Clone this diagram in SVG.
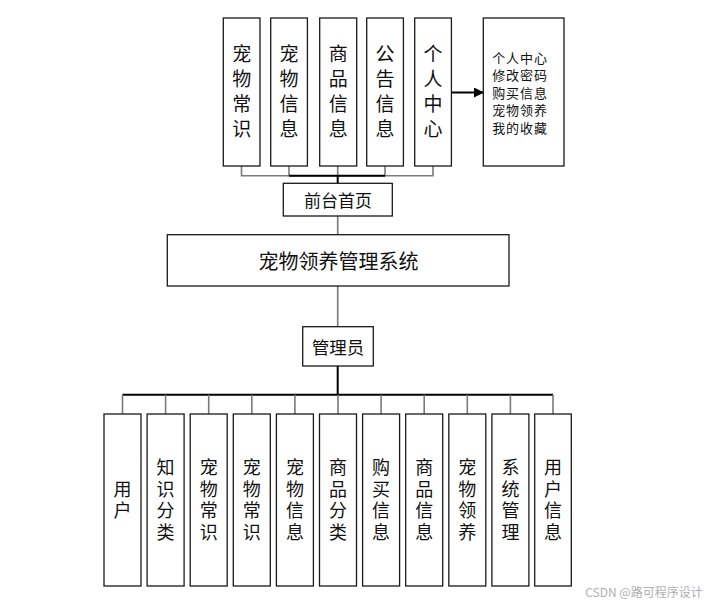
<svg xmlns="http://www.w3.org/2000/svg" width="719" height="604" viewBox="0 0 719 604">
<style>
.box{fill:#fff;stroke:#1a1a1a;stroke-width:1.3}
.t{font-family:"Noto Sans CJK SC","Noto Sans CJK JP",sans-serif;fill:#111;text-anchor:middle;dominant-baseline:central}
.vt{font-family:"Noto Sans CJK SC","Noto Sans CJK JP",sans-serif;fill:#111;text-anchor:middle;writing-mode:vertical-rl;font-size:19px;letter-spacing:6px}
.vb{font-family:"Noto Sans CJK SC","Noto Sans CJK JP",sans-serif;fill:#111;text-anchor:middle;writing-mode:vertical-rl;font-size:18px;letter-spacing:3.5px}
.g{stroke:#7a7a7a;stroke-width:1.6;fill:none}
.k{stroke:#000;stroke-width:2;fill:none}
</style>
<defs>
<marker id="ah" markerWidth="10" markerHeight="10" refX="9" refY="5" orient="auto" markerUnits="userSpaceOnUse">
<path d="M0,0 L10,5 L0,10 z" fill="#000"/>
</marker>
</defs>
<rect width="719" height="604" fill="#fff"/>
<g id="connectors">
<path class="g" d="M241.5,166V175.7H433V166M289,166V175.7M337.7,166V175.7M385,166V175.7"/>
<path class="k" d="M289,175.7H385M337.7,175.7V183.3"/>
<path class="g" d="M337.7,216V234.7M337.7,286V326.7"/>
<path class="k" d="M337.7,366V394.7M122.5,394.7H553"/>
<path class="g" d="M122.5,394.7V414M165.6,394.7V414M208.7,394.7V414M251.8,394.7V414M294.9,394.7V414M338,394.7V414M381.1,394.7V414M424.2,394.7V414M467.3,394.7V414M510.4,394.7V414M553,394.7V414"/>
<line class="k" x1="451.3" y1="92.5" x2="483" y2="92.5" marker-end="url(#ah)"/>
</g>
<g id="n-top1"><rect class="box" x="223.3" y="18" width="36.7" height="148"/><text class="vt" x="241.7" y="94">宠物常识</text></g>
<g id="n-top2"><rect class="box" x="270.7" y="18" width="36.7" height="148"/><text class="vt" x="289" y="94">宠物信息</text></g>
<g id="n-top3"><rect class="box" x="319.7" y="18" width="37" height="148"/><text class="vt" x="338.2" y="94">商品信息</text></g>
<g id="n-top4"><rect class="box" x="366.7" y="18" width="36.7" height="148"/><text class="vt" x="385" y="94">公告信息</text></g>
<g id="n-top5"><rect class="box" x="414.7" y="18" width="36.7" height="148"/><text class="vt" x="433" y="94">个人中心</text></g>
<g id="n-personal"><rect class="box" x="483.3" y="18" width="80.7" height="148"/>
<text class="t" x="520" y="57" style="font-size:13px;letter-spacing:0.9px">个人中心</text>
<text class="t" x="520" y="74.5" style="font-size:13px;letter-spacing:0.9px">修改密码</text>
<text class="t" x="520" y="92" style="font-size:13px;letter-spacing:0.9px">购买信息</text>
<text class="t" x="520" y="109.5" style="font-size:13px;letter-spacing:0.9px">宠物领养</text>
<text class="t" x="520" y="127" style="font-size:13px;letter-spacing:0.9px">我的收藏</text></g>
<g id="n-front"><rect class="box" x="283.3" y="183.3" width="109" height="32.7"/><text class="t" x="338" y="199.5" style="font-size:17px">前台首页</text></g>
<g id="n-system"><rect class="box" x="167.3" y="234.7" width="341.7" height="51.3"/><text class="t" x="338.5" y="260.5" style="font-size:20px">宠物领养管理系统</text></g>
<g id="n-admin"><rect class="box" x="302.7" y="326.7" width="70.6" height="39.3"/><text class="t" x="338" y="346" style="font-size:17.5px">管理员</text></g>
<g id="n-b1"><rect class="box" x="104" y="414" width="37" height="172"/><text class="vb" x="122.5" y="501.5">用户</text></g>
<g id="n-b2"><rect class="box" x="147.1" y="414" width="37" height="172"/><text class="vb" x="165.6" y="501.5">知识分类</text></g>
<g id="n-b3"><rect class="box" x="190.2" y="414" width="37" height="172"/><text class="vb" x="208.7" y="501.5">宠物常识</text></g>
<g id="n-b4"><rect class="box" x="233.3" y="414" width="37" height="172"/><text class="vb" x="251.8" y="501.5">宠物常识</text></g>
<g id="n-b5"><rect class="box" x="276.4" y="414" width="37" height="172"/><text class="vb" x="294.9" y="501.5">宠物信息</text></g>
<g id="n-b6"><rect class="box" x="319.5" y="414" width="37" height="172"/><text class="vb" x="338" y="501.5">商品分类</text></g>
<g id="n-b7"><rect class="box" x="362.6" y="414" width="37" height="172"/><text class="vb" x="381.1" y="501.5">购买信息</text></g>
<g id="n-b8"><rect class="box" x="405.7" y="414" width="37" height="172"/><text class="vb" x="424.2" y="501.5">商品信息</text></g>
<g id="n-b9"><rect class="box" x="448.8" y="414" width="37" height="172"/><text class="vb" x="467.3" y="501.5">宠物领养</text></g>
<g id="n-b10"><rect class="box" x="491.9" y="414" width="37" height="172"/><text class="vb" x="510.4" y="501.5">系统管理</text></g>
<g id="n-b11"><rect class="box" x="534.7" y="414" width="36.6" height="172"/><text class="vb" x="553" y="501.5">用户信息</text></g>
<text x="644" y="591" style="font-family:'Noto Sans CJK SC',sans-serif;font-size:12px;fill:#b0b0b0;text-anchor:middle;dominant-baseline:central">CSDN @路可程序设计</text>
</svg>
